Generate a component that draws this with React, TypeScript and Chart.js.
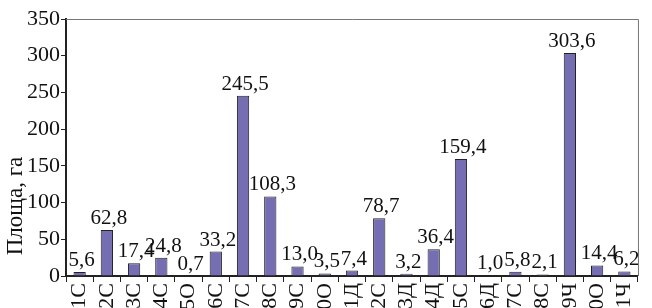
import React, { useEffect, useRef } from "react";
import { Chart, registerables } from "chart.js";

Chart.register(...registerables);

const categories = [
  "1С", "2С", "3С", "4С", "5О", "6С", "7С", "8С", "9С", "10О", "11Д",
  "12С", "13Д", "14Д", "15С", "16Д", "17С", "18С", "19Ч", "20О", "21Ч",
];
const areaValues = [
  5.6, 62.8, 17.4, 24.8, 0.7, 33.2, 245.5, 108.3, 13.0, 3.5, 7.4,
  78.7, 3.2, 36.4, 159.4, 1.0, 5.8, 2.1, 303.6, 14.4, 6.2,
];
const yTitle = "Площа, га";

const FONT = "'Liberation Serif', 'DejaVu Serif', serif";

const framePlugin = {
  id: "frame",
  afterDraw(chart: any) {
    const { ctx, chartArea } = chart;
    ctx.save();
    ctx.strokeStyle = "#777";
    ctx.lineWidth = 1;
    ctx.beginPath();
    ctx.moveTo(chartArea.left, chartArea.top + 0.5);
    ctx.lineTo(chartArea.right + 0.5, chartArea.top + 0.5);
    ctx.lineTo(chartArea.right + 0.5, chartArea.bottom);
    ctx.stroke();
    // y-axis title, placed low as in the reference
    ctx.fillStyle = "#111";
    ctx.font = `23px ${FONT}`;
    ctx.textAlign = "center";
    ctx.textBaseline = "middle";
    ctx.translate(16, chartArea.bottom - 70);
    ctx.rotate(-Math.PI / 2);
    ctx.fillText(yTitle, 0, 0);
    ctx.restore();
  },
};

const valueLabelPlugin = {
  id: "valueLabels",
  afterDatasetsDraw(chart: any) {
    const { ctx } = chart;
    const meta = chart.getDatasetMeta(0);
    const data = chart.data.datasets[0].data as number[];
    ctx.save();
    ctx.font = `21px ${FONT}`;
    ctx.fillStyle = "#111";
    ctx.textAlign = "center";
    ctx.textBaseline = "bottom";
    meta.data.forEach((bar: any, i: number) => {
      const txt = data[i].toFixed(1).replace(".", ",");
      ctx.fillText(txt, bar.x + 2, bar.y - 1);
    });
    ctx.restore();
  },
};

export default function App() {
  const ref = useRef<HTMLCanvasElement | null>(null);
  useEffect(() => {
    document.body.style.margin = "0";
    const chart = new Chart(ref.current as HTMLCanvasElement, {
      type: "bar",
      data: {
        labels: categories,
        datasets: [
          {
            data: areaValues,
            backgroundColor: "#756eb2",
            borderColor: "#222",
            borderWidth: 1,
            barPercentage: 0.45,
            categoryPercentage: 1,
          },
        ],
      },
      options: {
        responsive: false,
        animation: false,
        layout: { padding: { top: 19, right: 10, left: 0, bottom: 0 } },
        plugins: { legend: { display: false }, tooltip: { enabled: false } },
        scales: {
          x: {
            afterFit(scale: any) {
              scale.height = 32;
            },
            grid: {
              display: true,
              drawOnChartArea: false,
              drawTicks: true,
              tickLength: 6,
              offset: true,
              color: "#222",
              lineWidth: 1,
            },
            border: { display: true, color: "#222", width: 2 },
            ticks: {
              color: "#111",
              font: { family: FONT, size: 22 },
              minRotation: 90,
              maxRotation: 90,
              autoSkip: false,
              padding: 1,
            },
          },
          y: {
            min: 0,
            max: 350,
            afterFit(scale: any) {
              scale.width = 66;
            },
            grid: {
              display: true,
              drawOnChartArea: false,
              drawTicks: true,
              tickLength: 5,
              color: "#222",
            },
            border: { display: true, color: "#222", width: 2 },
            ticks: {
              stepSize: 50,
              color: "#111",
              font: { family: FONT, size: 22 },
              padding: 1,
            },
          },
        },
      },
      plugins: [framePlugin, valueLabelPlugin],
    });
    return () => chart.destroy();
  }, []);
  return <canvas ref={ref} width={652} height={308} style={{ display: "block" }} />;
}
